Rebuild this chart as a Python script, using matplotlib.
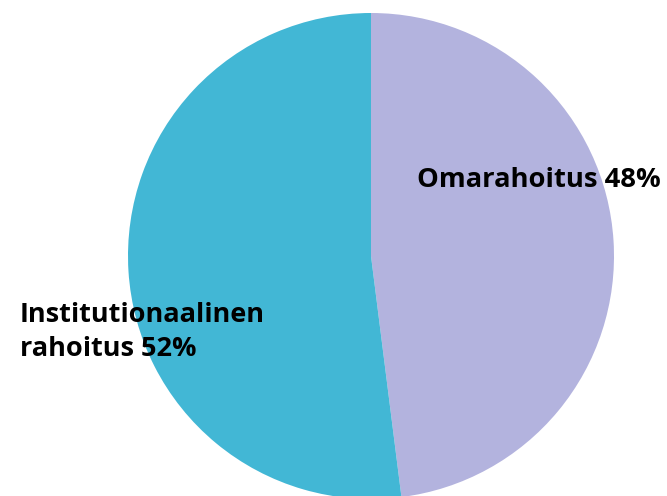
import matplotlib
matplotlib.use('Agg')
import matplotlib.pyplot as plt

labels = ['Omarahoitus 48%', 'Institutionaalinen\nrahoitus 52%']
shares = [48, 52]
colors = ['#b3b3de', '#42b7d5']

fig = plt.figure(figsize=(6.67, 4.96), dpi=100)
ax = fig.add_axes([0, 0, 1, 1])

ax.pie(shares, colors=colors, startangle=90, counterclock=False,
       center=(371, 240), radius=243, frame=True,
       wedgeprops=dict(linewidth=0))
ax.set_xlim(0, 667)
ax.set_ylim(0, 496)
ax.set_aspect('equal')
ax.axis('off')

ax.text(417, 316, labels[0], ha='left', va='center', fontsize=19.7,
        fontweight='bold', family='Open Sans', color='black')
ax.text(20, 164, labels[1], ha='left', va='center', fontsize=19.5,
        fontweight='bold', family='Open Sans', color='black',
        linespacing=1.42)

fig.savefig('out.png', dpi=100)
